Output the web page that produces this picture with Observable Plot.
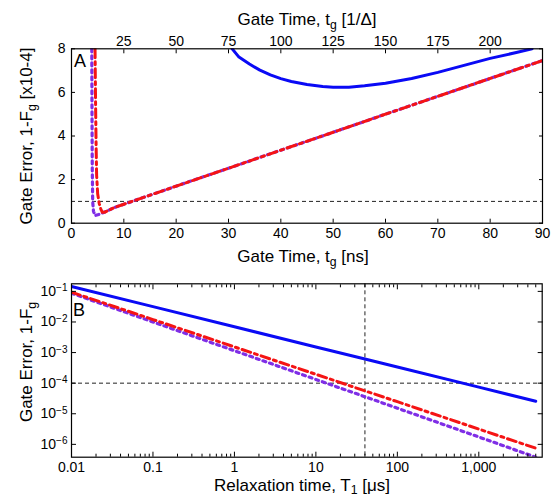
<!DOCTYPE html>
<html><head><meta charset="utf-8">
<script src="https://cdn.jsdelivr.net/npm/d3@7"></script>
<script src="https://cdn.jsdelivr.net/npm/@observablehq/plot@0.6"></script>
<style>
body{margin:0;background:#fff;}
#wrap{position:relative;width:558px;height:499px;font-family:"Liberation Sans",Arial,sans-serif;}
#wrap svg{position:absolute;left:0;overflow:visible;}
</style></head><body><div id="wrap"></div>
<script>
// ---------- Panel A: gate error (x1e-4) vs gate time (ns) ----------
const tgBlueA = [30.7, 32, 34, 36, 38, 40, 42, 45, 48, 50, 53, 56, 60, 65, 70, 75, 80, 85, 88];
const errBlueA = [8.0, 7.62, 7.3, 7.02, 6.8, 6.63, 6.5, 6.36, 6.27, 6.24, 6.24, 6.3, 6.42, 6.64, 6.92, 7.24, 7.56, 7.83, 8.0];
const tgRedA = [4.5, 4.6, 4.7, 4.8, 5.0, 5.3, 5.6, 5.9, 6.3, 7, 8, 10, 20, 30, 40, 50, 60, 70, 80, 90];
const errRedA = [8.0, 5.5, 3.6, 2.2, 1.35, 0.9, 0.65, 0.5, 0.5, 0.58, 0.7, 0.87, 1.7, 2.52, 3.35, 4.17, 5.0, 5.82, 6.64, 7.46];
const tgPurpleA = [3.88, 3.92, 3.97, 4.05, 4.2, 4.5, 5.2, 6, 7, 8, 10, 20, 30, 40, 50, 60, 70, 80, 90];
const errPurpleA = [8.0, 5.0, 2.5, 1.0, 0.55, 0.35, 0.4, 0.48, 0.58, 0.7, 0.87, 1.7, 2.52, 3.35, 4.17, 5.0, 5.82, 6.64, 7.46];
const thresholdA = 1;
const xTicksA = [0, 10, 20, 30, 40, 50, 60, 70, 80, 90];
const yTicksA = [0, 2, 4, 6, 8];
const topTickLabels = [25, 50, 75, 100, 125, 150, 175, 200];
const nsToInvDelta = 2.5;

// ---------- Panel B: gate error vs relaxation time T1 (us) ----------
const T1 = [0.01, 0.1, 1, 10, 40, 100, 1000, 5000];
const errBlueB = [0.1445, 0.0318, 6.98e-3, 1.53e-3, 6.2e-4, 3.37e-4, 7.4e-5, 2.57e-5];
const errRedB = [0.0942, 0.0120, 1.53e-3, 1.95e-4, 5.6e-5, 2.48e-5, 3.15e-6, 7.5e-7];
const errPurpleB = [0.0873, 0.0100, 1.15e-3, 1.32e-4, 3.6e-5, 1.52e-5, 1.74e-6, 3.8e-7];
const thresholdB = 1e-4;
const T1Marker = 40;
const xTicksB = [0.01, 0.1, 1, 10, 100, 1000];
const yTicksB = [1e-6, 1e-5, 1e-4, 1e-3, 1e-2, 1e-1];

const BLUE = "#0a0af5", RED = "#f51414", PURPLE = "#7f2ee6";
const FONT = '"Liberation Sans", Arial, sans-serif';

const zipA = (t, e) => t.map((v, i) => ({t: v, e: e[i]}));
const zipB = (t, e) => t.map((v, i) => ({t: v, e: e[i]}));
const minorB = [];
for (let k = -2; k <= 3; k++) for (let m = 2; m <= 9; m++) { const v = m * 10 ** k; if (v < 6000) minorB.push(v); }

const dashed = {stroke: "#222", strokeWidth: 1, strokeDasharray: "4,3"};
const styleObj = {fontFamily: FONT, fontSize: "14px", background: "transparent", overflow: "visible", color: "#000"};
const blank = () => "";

const svgA = Plot.plot({
  width: 558, height: 262,
  marginLeft: 71, marginRight: 16, marginTop: 48.3, marginBottom: 39.3,
  style: styleObj,
  x: {domain: [0, 90]},
  y: {domain: [0, 8]},
  marks: [
    Plot.ruleY([thresholdA], dashed),
    Plot.line(zipA(tgBlueA, errBlueA), {x: "t", y: "e", stroke: BLUE, strokeWidth: 3, clip: true}),
    Plot.line(zipA(tgPurpleA, errPurpleA), {x: "t", y: "e", stroke: PURPLE, strokeWidth: 3.2, strokeDasharray: "3,4", clip: true}),
    Plot.line(zipA(tgRedA, errRedA), {x: "t", y: "e", stroke: RED, strokeWidth: 3, strokeDasharray: "9,4,3,4", clip: true}),
    Plot.frame({stroke: "#000", strokeWidth: 1.2}),
    Plot.axisX({anchor: "bottom", ticks: xTicksA, tickSize: -4, tickPadding: 9, label: null}),
    Plot.axisX({anchor: "top", ticks: topTickLabels.map(v => v / nsToInvDelta), tickFormat: d => String(Math.round(d * nsToInvDelta)), tickSize: -4, tickPadding: 7, label: null}),
    Plot.axisY({anchor: "left", ticks: yTicksA, tickSize: -4, tickPadding: 10, label: null}),
    Plot.axisY({anchor: "right", ticks: yTicksA, tickSize: -4, tickFormat: blank, label: null})
  ]
});

const svgB = Plot.plot({
  width: 558, height: 237,
  marginLeft: 71, marginRight: 16.3, marginTop: 21.3, marginBottom: 42.3,
  style: styleObj,
  x: {type: "log", domain: [0.01, 6000]},
  y: {type: "log", domain: [3.8e-7, 0.177]},
  marks: [
    Plot.ruleY([thresholdB], dashed),
    Plot.ruleX([T1Marker], dashed),
    Plot.line(zipB(T1, errBlueB), {x: "t", y: "e", stroke: BLUE, strokeWidth: 3, clip: true}),
    Plot.line(zipB(T1, errPurpleB), {x: "t", y: "e", stroke: PURPLE, strokeWidth: 3.2, strokeDasharray: "3,4", clip: true}),
    Plot.line(zipB(T1, errRedB), {x: "t", y: "e", stroke: RED, strokeWidth: 3, strokeDasharray: "9,4,3,4", clip: true}),
    Plot.frame({stroke: "#000", strokeWidth: 1.2}),
    Plot.axisX({anchor: "bottom", ticks: xTicksB, tickFormat: d3.format(","), tickSize: -5, tickPadding: 10, label: null}),
    Plot.axisX({anchor: "bottom", ticks: minorB, tickFormat: blank, tickSize: -3, label: null}),
    Plot.axisX({anchor: "top", ticks: xTicksB, tickFormat: blank, tickSize: -5, label: null}),
    Plot.axisX({anchor: "top", ticks: minorB, tickFormat: blank, tickSize: -3, label: null}),
    Plot.axisY({anchor: "left", ticks: yTicksB, tickFormat: d => "10^" + Math.round(Math.log10(d)), tickSize: -5, tickPadding: 9, label: null}),
    Plot.axisY({anchor: "right", ticks: yTicksB, tickFormat: blank, tickSize: -5, label: null})
  ]
});

const wrap = document.getElementById("wrap");
svgA.style.top = "0px";
svgB.style.top = "262px";
wrap.appendChild(svgA);
wrap.appendChild(svgB);

// superscript exponents on panel B y tick labels
d3.select(svgB).selectAll('g[aria-label="y-axis tick label"] text').each(function () {
  const s = this.textContent;
  if (!s.includes("^")) return;
  const [base, ex] = s.split("^");
  const t = d3.select(this);
  t.text(null);
  t.append("tspan").text(base);
  t.append("tspan").attr("dy", "-0.45em").attr("font-size", "10px").text(ex.replace("-", "\u2212"));
});

function addLabel(svg, x, y, parts, {rotate = 0, size = 17, anchor = "middle", sub = 4} = {}) {
  const t = d3.select(svg).append("text")
    .attr("transform", `translate(${x},${y}) rotate(${rotate})`)
    .attr("text-anchor", anchor).attr("font-size", size).attr("font-family", FONT).attr("fill", "#000");
  let shift = 0;
  for (const [s, isSub] of parts) {
    const ts = t.append("tspan").text(s);
    if (isSub) { ts.attr("font-size", size * 0.72).attr("dy", sub); shift = sub; }
    else if (shift) { ts.attr("dy", -shift); shift = 0; }
  }
}

addLabel(svgA, 307, 25, [["Gate Time, t"], ["g", true], [" [1/\u0394]"]]);
addLabel(svgA, 303, 262, [["Gate Time, t"], ["g", true], [" [ns]"]]);
addLabel(svgA, 32, 136, [["Gate Error, 1-F"], ["g", true], [" [x10-4]"]], {rotate: -90});
addLabel(svgA, 74, 67, [["A"]], {anchor: "start", size: 18});
addLabel(svgB, 32, 100, [["Gate Error, 1-F"], ["g", true]], {rotate: -90});
addLabel(svgB, 302, 229, [["Relaxation time, T"], ["1", true], [" [\u03bcs]"]], {sub: 3});
addLabel(svgB, 73, 54, [["B"]], {anchor: "start", size: 18});
</script></body></html>
